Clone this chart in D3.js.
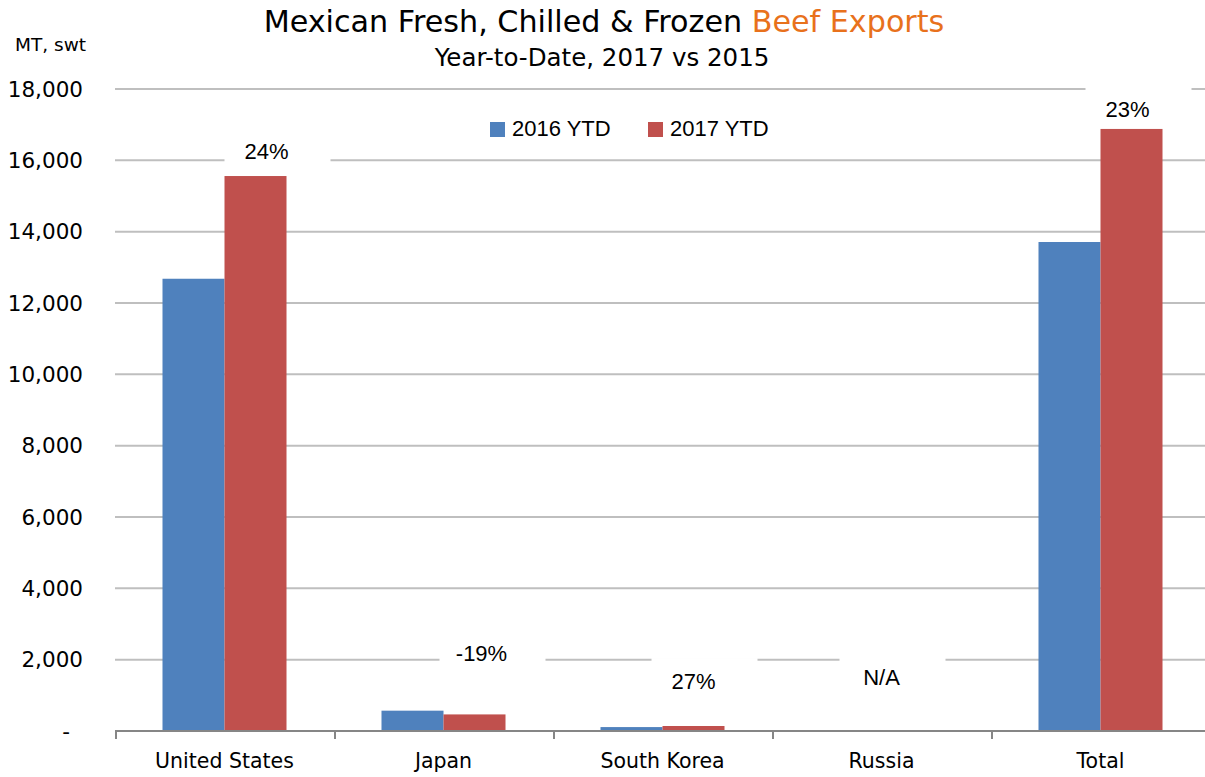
<!DOCTYPE html>
<html>
<head>
<meta charset="utf-8">
<script src="https://cdn.jsdelivr.net/npm/d3@7"></script>
<style>
  html, body { margin: 0; padding: 0; background: #fff; }
  svg { display: block; }
</style>
</head>
<body>
<svg id="chart" width="1205" height="777"></svg>
<script>
// ---- data ----
const categories = ["United States", "Japan", "South Korea", "Russia", "Total"];
const seriesNames = ["2016 YTD", "2017 YTD"];
const values2016 = [12680, 570, 110, 0, 13710];
const values2017 = [15560, 465, 140, 0, 16880];
const changeLabels = ["24%", "-19%", "27%", "N/A", "23%"];
const labelLevels = [16260, 2190, 1400, 1510, 17440]; // label anchor, in MT
const yTickValues = [0, 2000, 4000, 6000, 8000, 10000, 12000, 14000, 16000, 18000];
const titleMain = "Mexican Fresh, Chilled & Frozen ";
const titleAccent = "Beef Exports";
const subtitle = "Year-to-Date, 2017 vs 2015";
const yUnit = "MT, swt";

// ---- layout ----
const plotLeft = 115, plotRight = 1210, plotTop = 89, plotBottom = 731;
const colors = ["#4F81BD", "#C0504D"];
const svg = d3.select("#chart");

const x0 = d3.scaleBand().domain(categories).range([plotLeft, plotRight]).paddingInner(0).paddingOuter(0);
const x1 = d3.scaleBand().domain(seriesNames).range([0, x0.bandwidth()]).paddingInner(0).paddingOuter(0.766);
const y = d3.scaleLinear().domain([0, 18000]).range([plotBottom, plotTop]);
const color = d3.scaleOrdinal().domain(seriesNames).range(colors);

const labelShift = { "United States": 42, "Japan": 38, "South Korea": 31, "Russia": 0, "Total": 27 };
const rows = categories.map((c, i) => ({ cat: c, vals: [values2016[i], values2017[i]], label: changeLabels[i], level: labelLevels[i] }));

// gridlines
svg.append("g").selectAll("line").data(yTickValues.filter(d => d > 0)).join("line")
  .attr("x1", plotLeft).attr("x2", plotRight)
  .attr("y1", d => y(d)).attr("y2", d => y(d))
  .attr("stroke", "#BFBFBF").attr("stroke-width", 2);

// y tick labels
svg.append("g").selectAll("text").data(yTickValues).join("text")
  .attr("x", d => d === 0 ? 70 : 83)
  .attr("y", d => y(d))
  .attr("dy", "0.36em")
  .attr("text-anchor", "end")
  .attr("font-family", "DejaVu Sans")
  .attr("font-size", 21.5)
  .attr("fill", "#000")
  .text(d => d === 0 ? "-" : d3.format(",")(d));

// y unit
svg.append("text").attr("x", 15).attr("y", 51)
  .attr("font-family", "DejaVu Sans").attr("font-size", 18.5).attr("fill", "#000")
  .text(yUnit);

// bars
const groups = svg.append("g").selectAll("g").data(rows).join("g")
  .attr("transform", d => `translate(${x0(d.cat)},0)`);
groups.selectAll("rect").data(d => d.vals.map((v, j) => ({ s: seriesNames[j], v }))).join("rect")
  .attr("x", d => x1(d.s))
  .attr("width", x1.bandwidth())
  .attr("y", d => y(d.v))
  .attr("height", d => y(0) - y(d.v))
  .attr("fill", d => color(d.s));

// change labels with white boxes
const lab = svg.append("g").selectAll("g").data(rows).join("g");
lab.append("rect")
  .attr("x", d => x0(d.cat) + x0.bandwidth() / 2 + labelShift[d.cat] - 42)
  .attr("y", d => y(d.level) - 23)
  .attr("width", 106)
  .attr("height", 41)
  .attr("fill", "#fff");
lab.append("text")
  .attr("x", d => x0(d.cat) + x0.bandwidth() / 2 + labelShift[d.cat])
  .attr("y", d => y(d.level))
  .attr("dy", "0.36em")
  .attr("text-anchor", "middle")
  .attr("font-family", "Liberation Sans")
  .attr("font-size", 22)
  .attr("fill", "#000")
  .text(d => d.label);

// x axis line and ticks
svg.append("line").attr("x1", plotLeft).attr("x2", plotRight).attr("y1", plotBottom).attr("y2", plotBottom)
  .attr("stroke", "#868686").attr("stroke-width", 2);
const bounds = categories.map(c => x0(c)).concat([plotRight]);
svg.append("g").selectAll("line").data(bounds).join("line")
  .attr("x1", d => d + 1).attr("x2", d => d + 1)
  .attr("y1", plotBottom).attr("y2", plotBottom + 8)
  .attr("stroke", "#868686").attr("stroke-width", 2);

// category labels
svg.append("g").selectAll("text").data(categories).join("text")
  .attr("x", d => x0(d) + x0.bandwidth() / 2)
  .attr("y", 768)
  .attr("text-anchor", "middle")
  .attr("font-family", "DejaVu Sans")
  .attr("font-size", 20.5)
  .attr("fill", "#000")
  .text(d => d);

// legend
const legendX = [490, 648];
const leg = svg.append("g").selectAll("g").data(seriesNames).join("g")
  .attr("transform", (d, i) => `translate(${legendX[i]},122)`);
leg.append("rect").attr("width", 15).attr("height", 15).attr("fill", d => color(d));
leg.append("text").attr("x", 22).attr("y", 14)
  .attr("font-family", "Liberation Sans").attr("font-size", 22).attr("fill", "#000")
  .text(d => d);

// title
const t = svg.append("text").attr("x", 604).attr("y", 32).attr("text-anchor", "middle")
  .attr("font-family", "DejaVu Sans").attr("font-size", 30.2).attr("fill", "#000");
t.append("tspan").text(titleMain);
t.append("tspan").attr("fill", "#E8711C").text(titleAccent);
svg.append("text").attr("x", 602).attr("y", 66).attr("text-anchor", "middle")
  .attr("font-family", "DejaVu Sans").attr("font-size", 24.5).attr("fill", "#000")
  .text(subtitle);
</script>
</body>
</html>
